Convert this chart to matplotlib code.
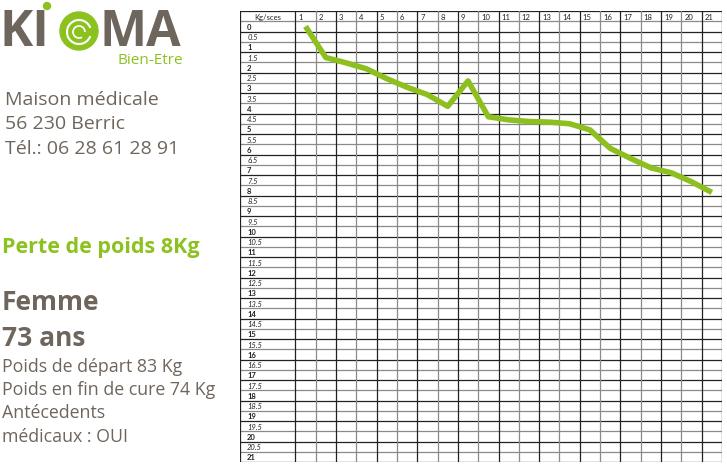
import matplotlib
matplotlib.use("Agg")
import matplotlib.pyplot as plt
from matplotlib.patches import Circle, Arc

# séances 1..21 and kg lost
seances = list(range(1, 22))
perte_kg = [0.0, 1.52, 1.78, 2.07, 2.55, 2.97, 3.33, 3.9, 2.66, 4.41, 4.56,
            4.64, 4.67, 4.75, 5.05, 5.95, 6.44, 6.9, 7.14, 7.58, 8.1]
row_labels = [i / 2 for i in range(0, 43)]  # 0, 0.5, ... 21

brown = "#6e655c"
green = "#8cc21f"
line_green = "#8dbf1e"

fig = plt.figure(figsize=(7.27, 4.77), dpi=100)

# ---- table / chart ----
ax = fig.add_axes([240 / 727, 1 - 463 / 477, 482 / 727, 451 / 477])
x_left = 0.5 - 55 / 20.2
x_right = 21.5
ax.set_xlim(x_left, x_right)
ax.set_ylim(21.25, -0.75)
ax.axis("off")

# horizontal lines (row borders)
for i in range(45):
    y = -0.75 + i * 0.5
    c = "#222222" if i % 2 == 0 else "#8a8a8a"
    if i in (0, 44):
        c = "#222222"
    ax.plot([x_left, x_right], [y, y], color=c, lw=0.9, zorder=1)
# vertical lines (column borders)
ax.plot([x_left, x_left], [-0.75, 21.25], color="#222222", lw=0.9, zorder=1)
for k in range(22):
    x = 0.5 + k
    c = "#222222" if k % 2 == 0 else "#8a8a8a"
    if k == 21:
        c = "#222222"
    ax.plot([x, x], [-0.75, 21.25], color=c, lw=0.9, zorder=1)

# header
ax.text((x_left + 0.5) / 2, -0.5, "Kg/sces", ha="center", va="center",
        fontsize=5.5, family="Lato", color="#222222")
for s in seances:
    ax.text(s - 0.35, -0.5, str(s), ha="left", va="center", fontsize=5.5,
            family="Lato", color="#222222")
for v in row_labels:
    if v == int(v):
        lab, st, wt = str(int(v)), "normal", "bold"
    else:
        lab, st, wt = str(v), "italic", "normal"
    ax.text(x_left + 0.35, v, lab, ha="left", va="center", fontsize=5.5,
            family="Lato", style=st, weight=wt, color="#222222")

ax.plot(seances, perte_kg, color=line_green, lw=4, solid_capstyle="butt",
        solid_joinstyle="round", zorder=3)

# ---- logo ----
fig.text(0 / 727, 1 - 33 / 477, "KI", fontsize=36, weight="bold",
         family="Open Sans", color=brown, va="center", ha="left")
fig.text(99 / 727, 1 - 33 / 477, "MA", fontsize=36, weight="bold",
         family="Open Sans", color=brown, va="center", ha="left")
fig.text(183 / 727, 1 - 61 / 477, "Bien-Etre", fontsize=11, family="Open Sans",
         color=green, va="center", ha="right")
logo_ax = fig.add_axes([0, 0, 1, 1], facecolor="none")
logo_ax.set_xlim(0, 727)
logo_ax.set_ylim(477, 0)
logo_ax.axis("off")
logo_ax.add_patch(Circle((79, 32), 19, color=green, zorder=2))
logo_ax.add_patch(Arc((79, 33), 24, 24, theta1=20, theta2=340, color="white", lw=1.5, zorder=3))
logo_ax.add_patch(Arc((79, 33), 12, 12, theta1=60, theta2=360, color="white", lw=1.2, zorder=3))
logo_ax.add_patch(Arc((79, 38), 90, 24, theta1=210, theta2=330, color=green, lw=1.3, zorder=2))
logo_ax.add_patch(Circle((47, 7), 3.5, color=green, zorder=2))

# ---- left texts ----
for txt, y in [("Maison médicale", 100), ("56 230 Berric", 124),
               ("Tél.: 06 28 61 28 91", 149)]:
    fig.text(5 / 727, 1 - y / 477, txt, fontsize=14, family="Open Sans",
             color=brown, va="center", ha="left")

fig.text(2 / 727, 1 - 248 / 477, "Perte de poids 8Kg", fontsize=15.5,
         weight="bold", family="Open Sans", color=green, va="center", ha="left")
fig.text(2 / 727, 1 - 302 / 477, "Femme", fontsize=19, weight="bold",
         family="Open Sans", color=brown, va="center", ha="left")
fig.text(2 / 727, 1 - 338 / 477, "73 ans", fontsize=19, weight="bold",
         family="Open Sans", color=brown, va="center", ha="left")
for txt, y in [("Poids de départ 83 Kg", 367), ("Poids en fin de cure 74 Kg", 390),
               ("Antécedents", 413), ("médicaux : OUI", 437)]:
    fig.text(2 / 727, 1 - y / 477, txt, fontsize=12.8, family="Open Sans",
             color=brown, va="center", ha="left")

fig.savefig("out.png", dpi=100)
